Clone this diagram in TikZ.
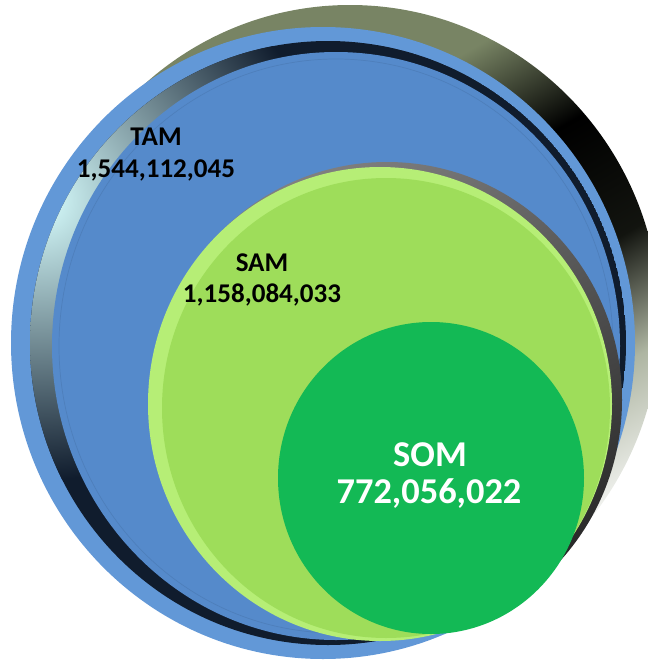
\documentclass[tikz,border=0pt]{standalone}
\usepackage{fontspec}
\setmainfont{Carlito}
\usepackage{xcolor}
\usetikzlibrary{shapes,positioning,calc}

\definecolor{tamblue}{RGB}{85,138,203}
\definecolor{tamrim}{RGB}{98,152,215}
\definecolor{navydark}{RGB}{16,28,45}
\definecolor{samgreen}{RGB}{158,221,90}
\definecolor{samlight}{RGB}{182,238,118}
\definecolor{somgreen}{RGB}{19,185,85}
\definecolor{backolive}{RGB}{120,132,100}

\pgfdeclarehorizontalshading{backrim}{100bp}{color(0bp)=(backolive); color(25bp)=(backolive); color(36bp)=(backolive); color(45bp)=(black); color(55bp)=(black!85!backolive); color(64bp)=(backolive!60!white); color(75bp)=(white); color(100bp)=(white)}

\begin{document}
\begin{tikzpicture}[x=0.02cm,y=-0.02cm,
    namelabel/.style={font=\bfseries\fontsize{15.4}{18}\selectfont, anchor=base, inner sep=0pt},
    somlabel/.style={font=\bfseries\fontsize{20.7}{24}\selectfont, anchor=base, inner sep=0pt, text=white}]
    \useasboundingbox (0,0) rectangle (648,663);
    \clip (0,0) rectangle (648,663);

    % Back rim of the TAM disc
    \shade[shading=backrim, shading angle=-60] (350,320) circle [x radius=310, y radius=315];

    % TAM disc with bevel
    \fill[tamrim] (323,343) circle [x radius=312, y radius=316];
    \begin{scope}
        \clip (328,343) circle [x radius=298, y radius=302];
        \fill[navydark] (328,343) circle [x radius=298, y radius=302];
        \shade[inner color=cyan!15!white, outer color=navydark] (40,200) circle [radius=280];
    \end{scope}
    \fill[tamblue] (336,346) circle [x radius=284, y radius=294];
    \draw[tamblue!92!black, line width=0.4pt] (336,346) circle [x radius=277, y radius=287];

    % SAM disc with shadow and bevel
    \shade[left color=gray, right color=black!85, shading angle=30] (387,400) circle [x radius=235, y radius=238];
    \fill[samlight] (380,404) circle [x radius=232, y radius=237];
    \fill[samgreen] (386,408) circle [x radius=224, y radius=230];

    % SOM disc
    \fill[somgreen] (431,478) circle [x radius=153, y radius=156];

    % Labels
    \node[namelabel] (tamname) at (156,145) {TAM};
    \node[namelabel] (tamvalue) at (156,177) {1,544,112,045};
    \node[namelabel] (samname) at (262,271) {SAM};
    \node[namelabel] (samvalue) at (262,302) {1,158,084,033};
    \node[somlabel] (somname) at (430,466) {SOM};
    \node[somlabel] (somvalue) at (429,503) {772,056,022};
\end{tikzpicture}
\end{document}
